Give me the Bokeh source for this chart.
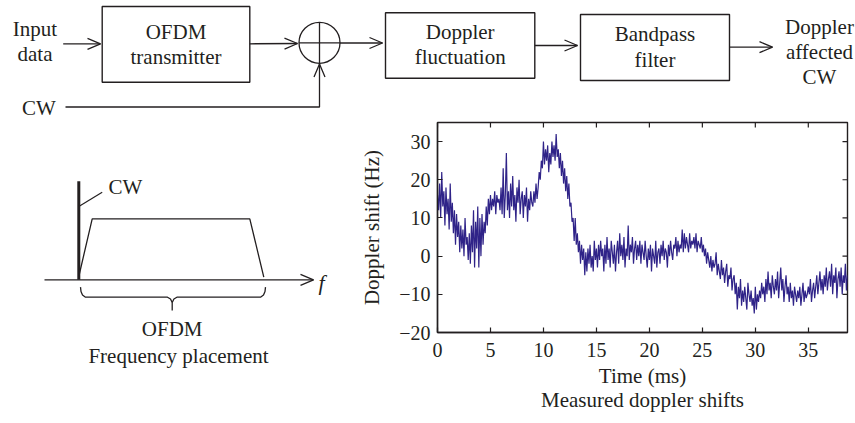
import math
from bokeh.plotting import figure
from bokeh.models import Range1d, FixedTicker, LinearAxis
from bokeh.layouts import column, row
from bokeh.embed import file_html
from bokeh.resources import INLINE
from bokeh.core.properties import value

FONT = "Liberation Serif"
INK = "#231f20"
SERIES_COLOR = "#2f2388"

# ---------------- chart data ----------------
doppler_shift_hz = [
    16, 12, 19, 10, 22, 13, 17, 8, 18, 11,
    15, 7, 19, 9, 14, 6, 12, 3, 11, 5,
    9, 1, 8, 2, 7, 0, 10, 3, 5, -1,
    6, -2, 8, 1, 12, -3, 9, 2, 13, -3,
    10, 0, 11, 3, 9, 6, 13, 8, 15, 11,
    16, 12, 15, 13, 17, 11, 16, 14, 15, 12,
    18, 11, 23, 10, 16, 27, 12, 17, 10, 19,
    13, 21, 12, 16, 9, 18, 14, 20, 11, 15,
    17, 10, 16, 13, 18, 9, 15, 12, 17, 14,
    13, 17, 14, 19, 15, 18, 22, 20, 25, 23,
    30, 24, 28, 25, 29, 22, 27, 24, 30, 26,
    29, 25, 32, 26, 28, 23, 27, 21, 25, 19,
    23, 17, 21, 15, 19, 13, 14, 9, 10, 4,
    10, 3, 6, 1, 4, -2, 3, -1, 2, -5,
    1, -4, 2, -2, 3, -3, 0, -4, 4, -1,
    2, -3, 3, -1, 4, 0, 2, -4, 3, -2,
    5, -1, 2, -3, 4, 1, -2, 3, -4, 1,
    4, -2, 6, 0, 3, -1, 5, -3, 2, 0,
    8, -1, 3, 1, 5, -2, 2, 4, -1, 3,
    0, 4, -2, 3, 1, -1, 4, 0, -3, 2,
    -1, 3, -4, 2, 0, -2, 4, -3, 1, 2,
    -2, 3, 0, 4, -1, 2, 1, -3, 3, 0,
    4, 1, -1, 3, 2, 5, 0, 4, 1, 3,
    2, 7, 1, 6, 2, 5, 3, 1, 6, 2,
    4, 3, 5, 2, 6, 1, 4, 3, 2, 5,
    1, 3, 0, 2, -2, 1, -1, -3, 0, -4,
    -1, -3, -2, 1, -5, -2, -4, -6, -1, -5,
    -3, -7, -4, -2, -8, -5, -6, -3, -9, -6,
    -5, -10, -7, -14, -8, -11, -6, -13, -9, -12,
    -8, -11, -14, -7, -10, -12, -9, -13, -11, -15,
    -8, -14, -10, -12, -9, -11, -7, -10, -8, -12,
    -6, -10, -4, -9, -7, -11, -5, -8, -10, -6,
    -9, -4, -11, -7, -3, -9, -6, -12, -8, -5,
    -10, -8, -12, -7, -11, -9, -13, -8, -10, -12,
    -9, -11, -8, -13, -10, -7, -12, -9, -11, -10,
    -8, -10, -6, -12, -9, -7, -11, -8, -5, -10,
    -7, -4, -9, -6, -10, -5, -8, -3, -9, -6,
    -4, -8, -2, -10, -5, -7, -3, -11, -6, -4,
    -8, -3, -10, -5, -7, -2, -9, -5,
]
time_start_ms = 0.0
time_step_ms = 0.1
time_ms = [round(time_start_ms + i * time_step_ms, 1) for i in range(len(doppler_shift_hz))]

x_ticks = [0, 5, 10, 15, 20, 25, 30, 35]
y_ticks = [-20, -10, 0, 10, 20, 30]
y_tick_text = {-20: "\u221220", -10: "\u221210"}
x_limits = (0, 38.7)
y_limits = (-20, 35)
x_axis_title = "Time (ms)"
y_axis_title = "Doppler shift (Hz)"
chart_caption = "Measured doppler shifts"

# ---------------- block diagram layout (reference pixel positions) ----------------
block_left = [101.7, 385.0, 580.0]
block_right = [249.3, 534.3, 729.0]
block_top = [6.0, 12.3, 14.0]
block_bottom = [81.7, 77.7, 80.0]

top_text = ["Input", "data", "OFDM", "transmitter", "CW", "Doppler", "fluctuation",
            "Bandpass", "filter", "Doppler", "affected", "CW"]
top_text_x = [34.5, 34.5, 175.5, 175.5, 38.3, 459.7, 459.7, 654.5, 654.5, 819, 819, 819]
top_text_y = [28, 53, 31.7, 56.7, 107.3, 31.7, 56.7, 33.3, 59.3, 26.7, 51, 76.7]

adder_x, adder_y, adder_r = 319.0, 42.3, 20.5

top_arrows = [
    ([62.7, 100.0], [43.3, 43.3]),
    ([249.3, 297.0], [43.3, 43.0]),
    ([339.5, 382.0], [42.5, 42.5]),
    ([534.3, 577.0], [45.0, 45.0]),
    ([729.0, 772.0], [46.7, 46.7]),
    ([65.0, 319.0, 319.0], [106.5, 106.5, 63.5]),
]

# frequency placement sketch
freq_axis = ([44.0, 313.0], [279.3, 279.3])
cw_bar = ([78.3, 78.3], [180.7, 279.3])
cw_leader = ([78.3, 101.7], [206.0, 191.7])
ofdm_spectrum = ([78.3, 91.7, 249.3, 263.3], [276.0, 218.3, 218.3, 276.7])
brace_left = ([80.0, 80.5, 82.0, 85.0, 167.0, 170.0, 171.7, 171.7],
              [286.7, 291.0, 294.5, 296.7, 296.7, 298.5, 302.0, 310.0])
brace_right = ([171.7, 173.4, 176.4, 260.0, 263.0, 264.5, 265.0],
               [302.0, 298.5, 296.7, 296.7, 294.5, 291.0, 286.7])
left_text = ["CW", "OFDM", "Frequency placement"]
left_text_x = [108.0, 171.7, 178.0]
left_text_y = [186.7, 328.3, 355.0]
left_text_align = ["left", "center", "center"]

# page geometry (pixels)
PAGE_W, PAGE_H = 855, 423
TOP_H = 120
SPLIT_X = 345
FRAME_TOP, FRAME_BOTTOM = 122, 332
FRAME_LEFT, FRAME_RIGHT = 437, 847


def arrow(p, xs, ys, head_len=13.0, head_half=5.5, width=1.3):
    p.line(xs, ys, line_color=INK, line_width=width)
    x1, y1 = xs[-1], ys[-1]
    x0, y0 = xs[-2], ys[-2]
    d = math.hypot(x1 - x0, y1 - y0)
    ux, uy = (x1 - x0) / d, (y1 - y0) / d
    bx, by = x1 - ux * head_len, y1 - uy * head_len
    px, py = -uy, ux
    p.line([bx + px * head_half, x1, bx - px * head_half],
           [by + py * head_half, y1, by - py * head_half],
           line_color=INK, line_width=width)


def plain(p):
    p.grid.visible = False
    p.outline_line_color = None
    p.background_fill_color = "white"
    p.border_fill_color = "white"


# ---------------- top block diagram ----------------
top = figure(width=PAGE_W, height=TOP_H, x_range=Range1d(0, PAGE_W), y_range=Range1d(TOP_H, 0),
             output_backend="svg", toolbar_location=None, min_border=0,
             x_axis_location=None, y_axis_location=None)
plain(top)
top.quad(left=block_left, right=block_right, top=block_top, bottom=block_bottom,
         fill_color=None, line_color=INK, line_width=1.4)
top.circle(x=[adder_x], y=[adder_y], radius=adder_r, fill_color=None,
           line_color=INK, line_width=1.3)
top.segment(x0=[adder_x - adder_r, adder_x], y0=[adder_y, adder_y - adder_r],
            x1=[adder_x + adder_r, adder_x], y1=[adder_y, adder_y + adder_r],
            line_color=INK, line_width=1.3)
for xs, ys in top_arrows:
    arrow(top, xs, ys)
top.text(x=top_text_x, y=top_text_y, text=top_text, text_align="center",
         text_baseline="middle", text_font=value(FONT), text_font_size="21px",
         text_color=INK)

# ---------------- frequency placement sketch ----------------
left = figure(width=SPLIT_X, height=PAGE_H - TOP_H,
              x_range=Range1d(0, SPLIT_X), y_range=Range1d(PAGE_H, TOP_H),
              output_backend="svg", toolbar_location=None, min_border=0,
              x_axis_location=None, y_axis_location=None)
plain(left)
arrow(left, *freq_axis)
left.line(*cw_bar, line_color=INK, line_width=3)
left.line(*cw_leader, line_color=INK, line_width=1.2)
left.line(*ofdm_spectrum, line_color=INK, line_width=1.3)
left.line(*brace_left, line_color=INK, line_width=1.3)
left.line(*brace_right, line_color=INK, line_width=1.3)
left.text(x=left_text_x, y=left_text_y, text=left_text, text_align=left_text_align,
          text_baseline="middle", text_font=value(FONT), text_font_size="21px",
          text_color=INK)
left.text(x=[318.0], y=[281.7], text=["f"], text_align="left", text_baseline="middle",
          text_font=value(FONT), text_font_size="22px", text_font_style="italic",
          text_color=INK)

# ---------------- measured doppler chart ----------------
chart = figure(width=PAGE_W - SPLIT_X, height=PAGE_H - TOP_H,
               x_range=Range1d(*x_limits), y_range=Range1d(*y_limits),
               output_backend="svg", toolbar_location=None,
               x_axis_location=None, y_axis_location=None,
               min_border_left=FRAME_LEFT - SPLIT_X, min_border_right=PAGE_W - FRAME_RIGHT,
               min_border_top=FRAME_TOP - TOP_H, min_border_bottom=PAGE_H - FRAME_BOTTOM)
chart.grid.visible = False
chart.background_fill_color = "white"
chart.border_fill_color = "white"
chart.outline_line_color = INK
chart.outline_line_width = 1.4

chart.line(time_ms, doppler_shift_hz, line_color=SERIES_COLOR, line_width=1.2)

# inward ticks on the top and right edges of the box
chart.scatter(x=x_ticks, y=[y_limits[1]] * len(x_ticks), marker="dash", size=10,
              angle=math.pi / 2, line_color=INK, line_width=1.2)
chart.scatter(x=[x_limits[1]] * len(y_ticks), y=y_ticks, marker="dash", size=10,
              line_color=INK, line_width=1.2)

xa = LinearAxis(ticker=FixedTicker(ticks=x_ticks),
                axis_label=x_axis_title + "\n" + chart_caption)
ya = LinearAxis(ticker=FixedTicker(ticks=y_ticks), axis_label=y_axis_title)
ya.major_label_overrides = y_tick_text
for ax in (xa, ya):
    ax.major_tick_in = 5
    ax.major_tick_out = 0
    ax.minor_tick_line_color = None
    ax.axis_line_color = INK
    ax.axis_line_width = 1.4
    ax.major_tick_line_color = INK
    ax.major_tick_line_width = 1.2
    ax.major_label_text_font = FONT
    ax.major_label_text_font_size = "20px"
    ax.major_label_text_color = INK
    ax.major_label_standoff = 7
    ax.axis_label_text_font = FONT
    ax.axis_label_text_font_size = "21px"
    ax.axis_label_text_font_style = "normal"
    ax.axis_label_text_color = INK
xa.major_label_standoff = 10
xa.axis_label_standoff = 4
xa.axis_label_text_line_height = 1.0
ya.axis_label_standoff = 12
chart.add_layout(xa, "below")
chart.add_layout(ya, "left")

# the sketch is wrapped so that its drawing area is not levelled with the chart frame
layout = column(top, row(column(left, spacing=0), chart, spacing=0), spacing=0)

with open("out.html", "w") as f:
    f.write(file_html(layout, INLINE))
